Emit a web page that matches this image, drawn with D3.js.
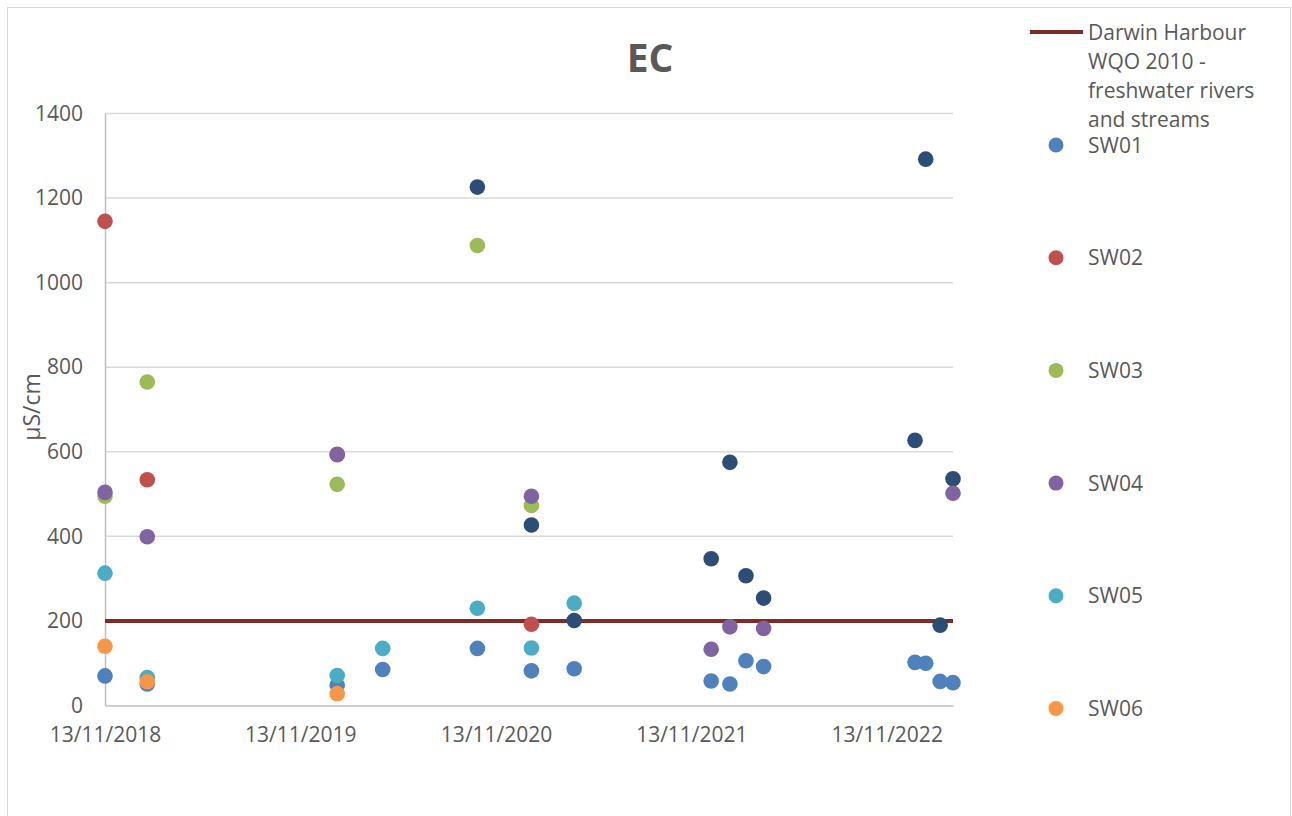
<!DOCTYPE html>
<html>
<head>
<meta charset="utf-8">
<script src="https://cdn.jsdelivr.net/npm/d3@7"></script>
<style>
  html, body { margin: 0; padding: 0; background: #ffffff; }
  svg text { font-family: "Open Sans", "Noto Sans", sans-serif; fill: #595959; }
</style>
</head>
<body>
<svg id="chart" width="1292" height="816"></svg>
<script>
// ---- Data ----
const seriesNames = ["SW01", "SW02", "SW03", "SW04", "SW05", "SW06"];
const seriesColors = ["#4F81BD", "#C0504D", "#9BBB59", "#8064A2", "#4BACC6", "#F79646"];
const extraSeriesName = "SW07";
const extraSeriesColor = "#2C4D75";

const sw01 = [["2018-11-13", 70], ["2019-01-31", 51], ["2020-01-21", 48], ["2020-04-15", 85],
  ["2020-10-09", 135], ["2021-01-18", 82], ["2021-04-08", 87], ["2021-12-20", 58],
  ["2022-01-24", 51], ["2022-02-23", 106], ["2022-03-28", 92], ["2023-01-05", 102],
  ["2023-01-25", 100], ["2023-02-21", 57], ["2023-03-17", 54]];
const sw02 = [["2018-11-13", 1145], ["2019-01-31", 534], ["2020-01-21", 594], ["2021-01-18", 192]];
const sw03 = [["2018-11-13", 495], ["2019-01-31", 765], ["2020-01-21", 523], ["2020-10-09", 1088],
  ["2021-01-18", 473]];
const sw04 = [["2018-11-13", 504], ["2019-01-31", 399], ["2020-01-21", 593], ["2021-01-18", 495],
  ["2021-12-20", 133], ["2022-01-24", 186], ["2022-03-28", 182], ["2023-03-17", 502]];
const sw05 = [["2018-11-13", 313], ["2019-01-31", 66], ["2020-01-21", 71], ["2020-04-15", 135],
  ["2020-10-09", 230], ["2021-01-18", 136], ["2021-04-08", 242]];
const sw06 = [["2018-11-13", 140], ["2019-01-31", 56], ["2020-01-21", 28]];
const sw07 = [["2020-10-09", 1226], ["2021-01-18", 427], ["2021-04-08", 201], ["2021-12-20", 347],
  ["2022-01-24", 575], ["2022-02-23", 307], ["2022-03-28", 254], ["2023-01-05", 627],
  ["2023-01-25", 1292], ["2023-02-21", 190], ["2023-03-17", 536]];

const thresholdName = "Darwin Harbour WQO 2010 - freshwater rivers and streams";
const thresholdLines = ["Darwin Harbour", "WQO 2010 -", "freshwater rivers", "and streams"];
const thresholdValue = 200;
const xDomain = ["2018-11-13", "2023-03-17"];
const xTickDates = ["2018-11-13", "2019-11-13", "2020-11-13", "2021-11-13", "2022-11-13"];
const yTicks = [0, 200, 400, 600, 800, 1000, 1200, 1400];
const titleText = "EC";
const yTitle = "µS/cm";

// ---- Layout ----
const parse = d3.utcParse("%Y-%m-%d");
const fmt = d3.utcFormat("%d/%m/%Y");
const plot = { left: 105, right: 953, top: 113.5, bottom: 705.5 };

const svg = d3.select("#chart");

svg.append("rect")
  .attr("x", 7.5).attr("y", 7.5).attr("width", 1283).attr("height", 840)
  .attr("fill", "#ffffff").attr("stroke", "#D9D9D9").attr("stroke-width", 1);

const x = d3.scaleUtc().domain(xDomain.map(parse)).range([plot.left, plot.right]);
const y = d3.scaleLinear().domain([0, 1400]).range([plot.bottom, plot.top]);

// gridlines
svg.append("g").selectAll("line").data(yTicks.filter(d => d > 0)).join("line")
  .attr("x1", plot.left).attr("x2", plot.right)
  .attr("y1", d => y(d)).attr("y2", d => y(d))
  .attr("stroke", "#D9D9D9").attr("stroke-width", 1.5);

// y axis
const yAxis = svg.append("g").attr("transform", `translate(${plot.left},0)`)
  .call(d3.axisLeft(y).tickValues(yTicks).tickSize(0).tickPadding(22).tickFormat(d3.format("d")));
yAxis.select(".domain").attr("stroke", "#BFBFBF").attr("stroke-width", 1.5);
yAxis.selectAll("text").style("font-size", "21px").attr("fill", "#595959");

// x axis
const xAxis = svg.append("g").attr("transform", `translate(0,${plot.bottom})`)
  .call(d3.axisBottom(x).tickValues(xTickDates.map(parse)).tickSize(0).tickPadding(22).tickFormat(fmt));
xAxis.select(".domain").attr("stroke", "#BFBFBF").attr("stroke-width", 1.5);
xAxis.selectAll("text").style("font-size", "21px").attr("fill", "#595959");

// threshold line
svg.append("line")
  .attr("x1", x(parse(xDomain[0]))).attr("x2", x(parse(xDomain[1])))
  .attr("y1", y(thresholdValue)).attr("y2", y(thresholdValue))
  .attr("stroke", "#7F2B28").attr("stroke-width", 4);

// points
const allSeries = [
  { name: extraSeriesName, color: extraSeriesColor, data: sw07 },
  { name: seriesNames[0], color: seriesColors[0], data: sw01 },
  { name: seriesNames[1], color: seriesColors[1], data: sw02 },
  { name: seriesNames[2], color: seriesColors[2], data: sw03 },
  { name: seriesNames[3], color: seriesColors[3], data: sw04 },
  { name: seriesNames[4], color: seriesColors[4], data: sw05 },
  { name: seriesNames[5], color: seriesColors[5], data: sw06 }
];
const r = 7.8;
allSeries.forEach(s => {
  svg.append("g").attr("class", "series-" + s.name)
    .selectAll("circle").data(s.data).join("circle")
    .attr("cx", d => x(parse(d[0])))
    .attr("cy", d => y(d[1]))
    .attr("r", r)
    .attr("fill", s.color);
});

// title
svg.append("text").attr("x", 650).attr("y", 72).attr("text-anchor", "middle")
  .style("font-size", "39px").style("font-weight", "bold").attr("fill", "#595959")
  .text(titleText);

// y title
svg.append("text").attr("transform", "translate(40,407) rotate(-90)")
  .attr("text-anchor", "middle").style("font-size", "23px").attr("fill", "#595959")
  .text(yTitle);

// legend
const lg = svg.append("g");
lg.append("line").attr("x1", 1030).attr("x2", 1083).attr("y1", 32).attr("y2", 32)
  .attr("stroke", "#7F2B28").attr("stroke-width", 4);
lg.append("text").attr("x", 1088).attr("y", 39.5).style("font-size", "21px").attr("fill", "#595959")
  .selectAll("tspan").data(thresholdLines).join("tspan")
  .attr("x", 1088).attr("dy", (d, i) => i === 0 ? 0 : 29).text(d => d);

const legendY0 = 145, legendStep = 112.7;
seriesNames.forEach((n, i) => {
  const cy = legendY0 + i * legendStep;
  lg.append("circle").attr("cx", 1056).attr("cy", cy).attr("r", 7.5).attr("fill", seriesColors[i]);
  lg.append("text").attr("x", 1088).attr("y", cy + 7.5).style("font-size", "21px")
    .attr("fill", "#595959").text(n);
});
</script>
</body>
</html>
